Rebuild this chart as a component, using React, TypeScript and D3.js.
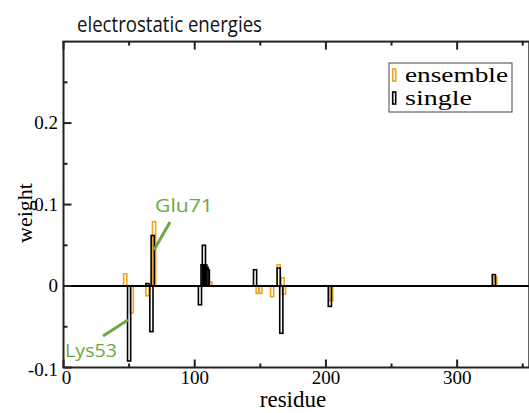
import React from 'react';
import * as d3 from 'd3';

// residue numbers and weights
const ensembleResidues = [47, 52, 64, 69, 112, 148, 150, 159, 164, 167, 168, 204, 329];
const ensembleWeights = [0.015, -0.033, -0.012, 0.079, 0.005, -0.009, -0.009, -0.013, 0.026, 0.01, -0.01, -0.018, 0.011];
const singleResidues = [50, 64, 67, 68, 104, 106, 107, 108, 109, 110, 146, 164, 166, 203, 328];
const singleWeights = [-0.092, 0.003, -0.056, 0.062, -0.023, 0.026, 0.05, 0.026, 0.023, 0.02, 0.02, 0.022, -0.058, -0.025, 0.014];

const xMajor = [0, 100, 200, 300];
const xMinor = [50, 150, 250, 350];
const yMajor = [-0.1, 0, 0.1, 0.2];
const yMinor = [-0.05, 0.05, 0.15, 0.25];
const yLabels = ['-0.1', '0', '0.1', '0.2'];

const W = 529;
const H = 413;
const left = 63.5, right = 529.3, top = 41.6, bottom = 367.5;

const orange = '#f2a31b';
const green = '#6aaa3e';
const serif = '"Liberation Serif", "Times New Roman", serif';
const sans = '"Open Sans", "Noto Sans", sans-serif';

const App = () => {
    const x = d3.scaleLinear().domain([0, 355]).range([left, right]);
    const y = d3.scaleLinear().domain([-0.1, 0.3]).range([bottom, top]);
    const bw = x(2.4) - x(0);

    const bar = (r: number, v: number, color: string, key: string) => (
        <rect key={key}
            x={x(r) - bw / 2}
            y={Math.min(y(v), y(0))}
            width={bw}
            height={Math.abs(y(v) - y(0))}
            fill="none" stroke={color} strokeWidth={1.6} />
    );

    return (
        <svg width={W} height={H} style={{ position: 'absolute', left: 0, top: 0, background: '#fff' }}>
            <rect width={W} height={H} fill="#fff" />
            <text x={77} y={32} fontFamily={sans} fontSize={21} textLength={185} lengthAdjust="spacingAndGlyphs" fill="#111">electrostatic energies</text>

            {ensembleResidues.map((r, i) => bar(r, ensembleWeights[i], orange, 'e' + i))}
            {singleResidues.map((r, i) => bar(r, singleWeights[i], '#000', 's' + i))}

            <line x1={left} x2={W} y1={y(0)} y2={y(0)} stroke="#000" strokeWidth={2} />

            {/* frame */}
            <rect x={left} y={top} width={right - left} height={bottom - top} fill="none" stroke="#222" strokeWidth={2} />

            {xMajor.map(t => (
                <g key={'xM' + t}>
                    <line x1={x(t)} x2={x(t)} y1={bottom} y2={bottom - 8} stroke="#222" strokeWidth={2} />
                    <line x1={x(t)} x2={x(t)} y1={top} y2={top + 8} stroke="#222" strokeWidth={2} />
                    <text x={x(t) + (t === 0 ? 3 : 0)} y={384} textAnchor="middle" fontFamily={serif} fontSize={19}>{t}</text>
                </g>
            ))}
            {xMinor.map(t => (
                <g key={'xm' + t}>
                    <line x1={x(t)} x2={x(t)} y1={bottom} y2={bottom - 4} stroke="#222" strokeWidth={2} />
                    <line x1={x(t)} x2={x(t)} y1={top} y2={top + 4} stroke="#222" strokeWidth={2} />
                </g>
            ))}
            {yMajor.map((t, i) => (
                <g key={'yM' + t}>
                    <line x1={left} x2={left + 8} y1={y(t)} y2={y(t)} stroke="#222" strokeWidth={2} />
                    <text x={58} y={y(t) + (t === -0.1 ? 8 : 6)} textAnchor="end" fontFamily={serif} fontSize={19}>{yLabels[i]}</text>
                </g>
            ))}
            {yMinor.map(t => (
                <line key={'ym' + t} x1={left} x2={left + 4} y1={y(t)} y2={y(t)} stroke="#222" strokeWidth={2} />
            ))}

            <text x={293} y={407} textAnchor="middle" fontFamily={serif} fontSize={23}>residue</text>
            <text transform="translate(32,213) rotate(-90)" textAnchor="middle" fontFamily={serif} fontSize={22}>weight</text>

            {/* legend */}
            <rect x={389} y={63} width={123} height={49} fill="#fff" stroke="#444" strokeWidth={1} />
            <rect x={392.7} y={69} width={3} height={12} fill="none" stroke={orange} strokeWidth={1.6} />
            <rect x={392.7} y={92} width={3} height={12} fill="none" stroke="#000" strokeWidth={1.6} />
            <text x={405} y={82} fontFamily={serif} fontSize={20} textLength={103} lengthAdjust="spacingAndGlyphs">ensemble</text>
            <text x={405} y={105} fontFamily={serif} fontSize={20} textLength={67} lengthAdjust="spacingAndGlyphs">single</text>

            {/* annotations */}
            <line x1={103} y1={336} x2={128} y2={320} stroke={green} strokeWidth={3} />
            <text x={65} y={357} fontFamily={sans} fontSize={19} textLength={52} lengthAdjust="spacingAndGlyphs" fill={green}>Lys53</text>
            <line x1={154} y1={250} x2={170} y2={222} stroke={green} strokeWidth={3} />
            <text x={155} y={212} fontFamily={sans} fontSize={19} textLength={58} lengthAdjust="spacingAndGlyphs" fill={green}>Glu71</text>
        </svg>
    );
};

export default App;
